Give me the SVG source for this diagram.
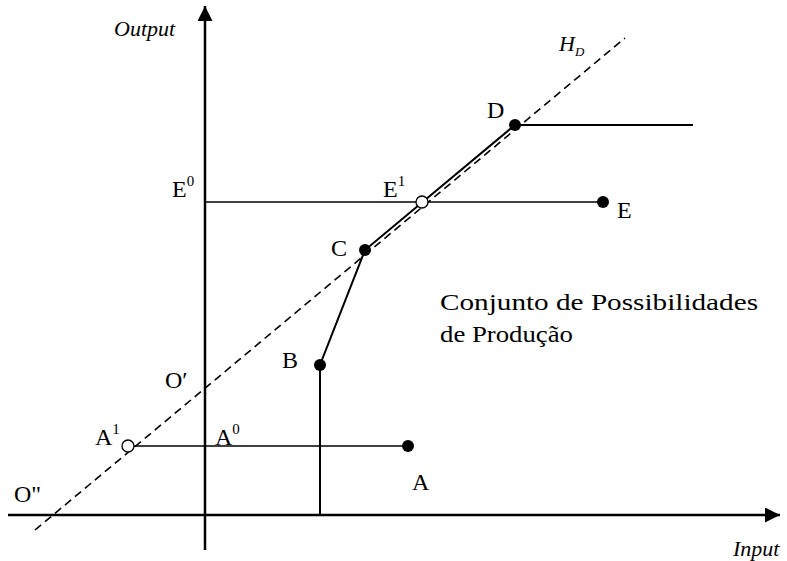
<svg xmlns="http://www.w3.org/2000/svg" width="787" height="561" viewBox="0 0 787 561">
<style>
text{font-family:"Liberation Serif","Times New Roman",Times,serif;fill:#000}
.lbl{font-size:24px}
.it{font-style:italic;font-size:22px}
.sup{font-size:15px}
.ax{stroke:#000;stroke-width:2.5;fill:none}
.ln{stroke:#000;stroke-width:2;fill:none}
.th{stroke:#000;stroke-width:1.6;fill:none}
.dash{stroke:#000;stroke-width:1.6;fill:none;stroke-dasharray:8 5}
.dot{fill:#000}
.open{fill:#fff;stroke:#000;stroke-width:1.3}
</style>
<defs>
<marker id="ah" viewBox="0 0 10 10" refX="10" refY="5" markerWidth="6" markerHeight="6" orient="auto" markerUnits="strokeWidth">
<path d="M0,0 L10,5 L0,10 Z" fill="#000"/>
</marker>
</defs>
<rect width="787" height="561" fill="#fff"/>
<g id="connectors">
<line class="ax" x1="205" y1="550" x2="205" y2="6" marker-end="url(#ah)"/>
<line class="ax" x1="8" y1="515" x2="780" y2="515" marker-end="url(#ah)"/>
<line class="dash" x1="35" y1="530" x2="625" y2="38"/>
<line class="th" x1="205" y1="202" x2="603" y2="202"/>
<line class="th" x1="134" y1="446" x2="408" y2="446"/>
<polyline class="ln" points="320,515 320,365 365,250 515,125 693,125"/>
</g>
<g id="axis-labels">
<text class="it" x="114" y="36">Output</text>
<text class="it" x="733" y="556">Input</text>
<text class="it" x="559" y="51" font-size="23">H<tspan dy="5" font-size="13">D</tspan></text>
</g>
<g id="O2"><text class="lbl" x="14" y="502">O"</text></g>
<g id="O1"><text class="lbl" x="165" y="388">O′</text></g>
<g id="A1"><circle class="open" cx="128" cy="446" r="6"/><text class="lbl" x="95" y="445">A<tspan class="sup" dy="-11">1</tspan></text></g>
<g id="A0"><text class="lbl" x="215" y="445">A<tspan class="sup" dy="-11">0</tspan></text></g>
<g id="A"><circle class="dot" cx="408" cy="446" r="6"/><text class="lbl" x="412" y="490">A</text></g>
<g id="B"><circle class="dot" cx="320" cy="365" r="6"/><text class="lbl" x="282" y="368">B</text></g>
<g id="C"><circle class="dot" cx="365" cy="250" r="6"/><text class="lbl" x="331" y="256">C</text></g>
<g id="D"><circle class="dot" cx="515" cy="125" r="6"/><text class="lbl" x="487" y="118">D</text></g>
<g id="E1"><circle class="open" cx="422" cy="202" r="6"/><text class="lbl" x="383" y="197">E<tspan class="sup" dy="-11">1</tspan></text></g>
<g id="E0"><text class="lbl" x="172" y="197">E<tspan class="sup" dy="-11">0</tspan></text></g>
<g id="E"><circle class="dot" cx="603" cy="202" r="6"/><text class="lbl" x="617" y="218">E</text></g>
<g id="region-label">
<text class="lbl" x="440" y="310" font-size="21" textLength="318" lengthAdjust="spacingAndGlyphs">Conjunto de Possibilidades</text>
<text class="lbl" x="440" y="342" font-size="21" textLength="133" lengthAdjust="spacingAndGlyphs">de Produção</text>
</g>
</svg>
